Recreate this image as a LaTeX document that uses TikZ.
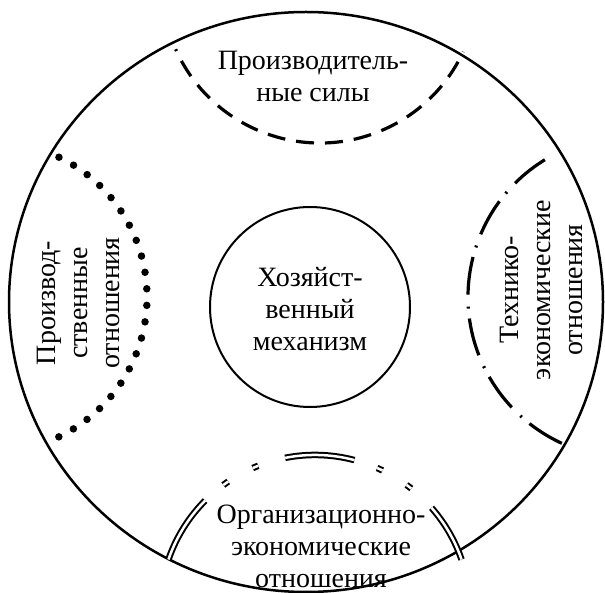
\documentclass[tikz,border=0pt]{standalone}
\usepackage{fontspec}
\setmainfont{Liberation Serif}

\tikzset{
    ringtext/.style={align=center, inner sep=0pt, font=\fontsize{28}{32}\selectfont},
    ringline/.style={line width=2.5pt},
    forcesarc/.style={line width=3.2pt, dash pattern=on 18pt off 11pt, dash phase=16pt},
    relarc/.style={line width=7.5pt, line cap=round, dash pattern=on 0pt off 16.6pt},
    techarc/.style={line width=3.2pt, dash pattern=on 38pt off 12pt on 2pt off 10pt},
    orgarc/.style={line width=2pt, double, double distance=2.5pt,
        dash pattern=on 70pt off 24pt on 6pt off 28pt on 6pt off 28pt}
}

\begin{document}
\begin{tikzpicture}[x=1pt,y=1pt]
    \useasboundingbox (0,0) rectangle (605,592);

    % Outer ring and the centre circle
    \draw[ringline] (306,290) ellipse [x radius=297pt, y radius=290pt];
    \draw[line width=2pt] (310,285) circle [radius=100pt];

    % Centres of the four arcs
    \coordinate (topc) at (320,607);
    \coordinate (leftc) at (-8,295);
    \coordinate (rightc) at (629,295);
    \coordinate (bottomc) at (315,-18);

    % Dashed arc (top)
    \draw[forcesarc] (topc) ++(204:158pt) arc [start angle=204, end angle=335, radius=158pt];

    % Dotted arc (left)
    \draw[relarc] (leftc) ++(64.4:155pt) arc [start angle=64.4, end angle=-64.5, radius=155pt];

    % Dash-dot arc (right)
    \draw[techarc] (rightc) ++(121.5:161pt) arc [start angle=121.5, end angle=248, radius=161pt];

    % Double arc (bottom)
    \draw[orgarc] (bottomc) ++(161:155pt) arc [start angle=161, end angle=19, radius=155pt];

    % Labels
    \node[ringtext] (mech) at (310,283) {Хозяйст-\\венный\\механизм};
    \node[ringtext] (forces) at (313,516) {Производитель-\\ные силы};
    \node[ringtext, rotate=90] (prodrel) at (78,289) {Производ-\\ственные\\отношения};
    \node[ringtext, rotate=90] (techrel) at (541,302) {Технико-\\экономические\\отношения};
    \node[ringtext] (orgrel) at (321,46) {Организационно-\\экономические\\отношения};

\end{tikzpicture}
\end{document}
